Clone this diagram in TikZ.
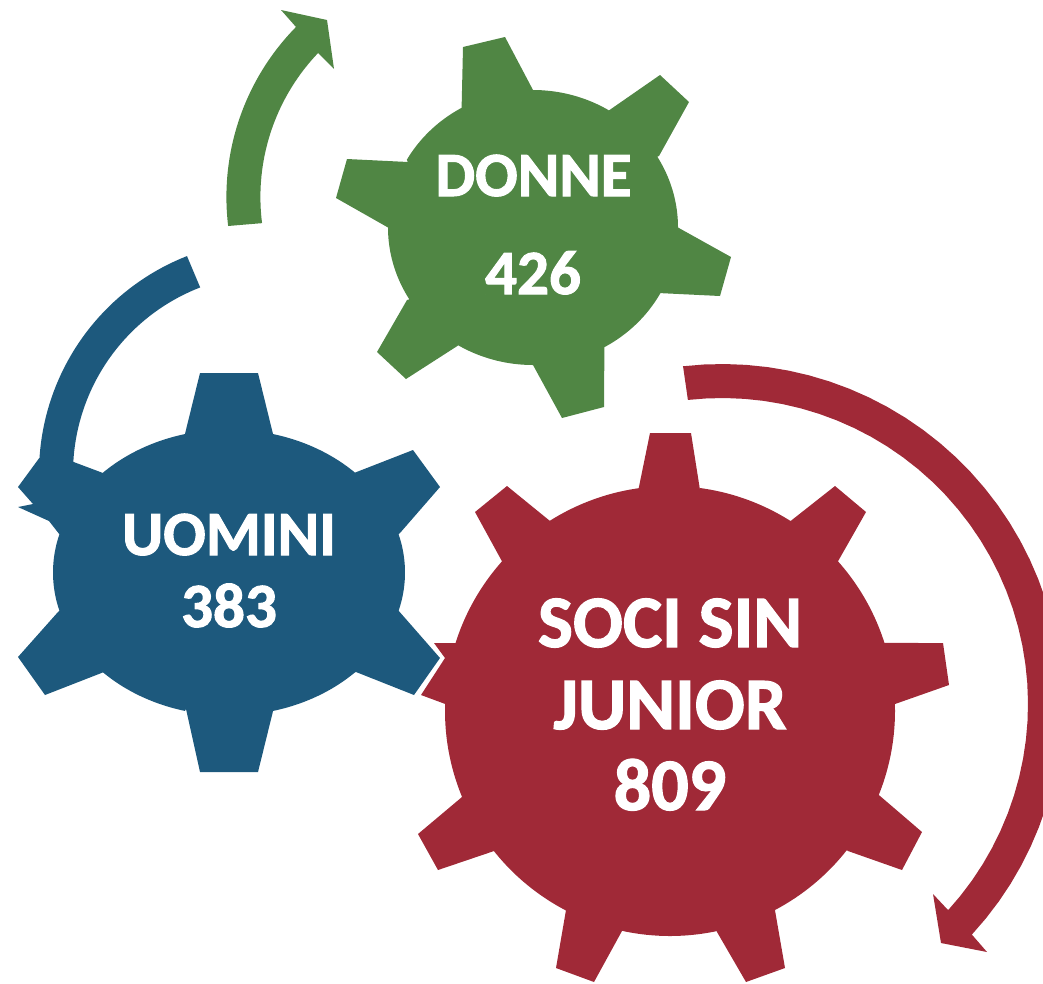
\documentclass[tikz,border=0pt]{standalone}
\usepackage{fontspec}
\setmainfont{Carlito}[BoldFeatures={FakeBold=1.6}]
\definecolor{gearblue}{HTML}{1D597D}
\definecolor{geargreen}{HTML}{508644}
\definecolor{gearred}{HTML}{A02937}
\newcommand{\earc}[6]{-- plot[domain=#5:#6,samples=40] ({#1+#3*cos(\x)},{#2+#4*sin(\x)})}
\tikzset{
  gearlabel/.style={text=white,anchor=base,inner sep=0pt,font=\bfseries\fontsize{#1}{#1}\selectfont}
}
\begin{document}
\begin{tikzpicture}[x=1pt,y=-1pt]
\useasboundingbox (0,0) rectangle (1043,983);
\clip (0,0) rectangle (1043,983);
% red gear
\fill[gearred] (650,433) -- (691,433) -- (700,490)
  \earc{670}{711}{225}{225}{-82.3}{-57.6}
  -- (835,486) -- (866,512) -- (837,563)
  \earc{670}{711}{225}{225}{-41.6}{-17.6}
  -- (943,643) -- (949,685) -- (895,704)
  \earc{670}{711}{225}{225}{-1.8}{21.9}
  -- (922,832) -- (902,870) -- (848,851)
  \earc{670}{711}{225}{225}{38.2}{62.2}
  -- (785,968) -- (746,982) -- (717,932)
  \earc{670}{711}{225}{225}{78}{102.3}
  -- (594,982) -- (556,968) -- (566,910)
  \earc{670}{711}{225}{225}{117.6}{141.5}
  -- (438,870) -- (418,834) -- (462,797)
  \earc{670}{711}{225}{225}{157.5}{181.8}
  -- (421,695) -- (445,658) -- (434,643) -- (456,643)
  \earc{670}{711}{225}{225}{197.6}{221.7}
  -- (475,512) -- (507,486) -- (550,521)
  \earc{670}{711}{225}{225}{237.7}{262}
  -- cycle;
% red arrow
\fill[gearred] (683,366)
  \earc{722}{704}{340}{340}{-96.6}{42.7}
  -- (987,952) -- (941,943) -- (933,894) -- (948,910)
  \earc{722}{704}{306}{306}{42.3}{-96.4}
  -- cycle;
% blue gear and arrow
\fill[gearblue] (200,373) -- (258,373) -- (273,434)
  \earc{229}{572.5}{176}{143}{-75.5}{-44.3}
  -- (413,450) -- (440,487) -- (400,533)
  \earc{229}{572.5}{176}{143}{-15.5}{15.5}
  -- (440,658) -- (414,695) -- (356,672)
  \earc{229}{572.5}{176}{143}{44.3}{75.5}
  -- (258,772) -- (200,772) -- (186,709)
  \earc{229}{572.5}{176}{143}{104.5}{135.7}
  -- (45,695) -- (18,657) -- (58,612)
  \earc{229}{572.5}{176}{143}{164.5}{195.5}
  -- (49,521) -- (18,507) -- (33,504) -- (18,487) -- (40,457)
  \earc{272}{473}{233}{233}{184}{248.6}
  -- (200,287)
  \earc{272}{473}{199}{199}{248.8}{183.2}
  -- (103,473)
  \earc{229}{572.5}{176}{143}{224.3}{255.5}
  -- cycle;
% green gear
\fill[geargreen] (463,47) -- (505,37) -- (533,90)
  \earc{533}{227.5}{145}{137.5}{-90}{-58.4}
  -- (660,75) -- (689,102) -- (659,156)
  \earc{533}{227.5}{145}{137.5}{-31}{0}
  -- (731,257) -- (720,296) -- (658,293)
  \earc{533}{227.5}{145}{137.5}{28.5}{60.5}
  -- (604,407) -- (562,418) -- (533,365)
  \earc{533}{227.5}{145}{137.5}{90}{121}
  -- (406,379) -- (377,352) -- (407,300)
  \earc{533}{227.5}{145}{137.5}{148.5}{180}
  -- (336,198) -- (347,159) -- (408,162)
  \earc{533}{227.5}{145}{137.5}{209.5}{240.5}
  -- cycle;
% green arrow
\fill[geargreen] (228,226)
  \earc{469}{197}{242.6}{242.6}{173.1}{224.5}
  -- (281,10) -- (327,20) -- (334,69) -- (318,53)
  \earc{469}{197}{208.6}{208.6}{223.6}{172.8}
  -- cycle;
% labels
\node[gearlabel=63] (donne) at (533.5,196) {DONNE};
\node[gearlabel=63] (n426) at (533,294) {426};
\node[gearlabel=63] (uomini) at (229,555) {UOMINI};
\node[gearlabel=63] (n383) at (229,627) {383};
\node[gearlabel=74] (soci) at (670,647) {SOCI SIN};
\node[gearlabel=74] (junior) at (670,729) {JUNIOR};
\node[gearlabel=74] (n809) at (670,810) {809};
\end{tikzpicture}
\end{document}
